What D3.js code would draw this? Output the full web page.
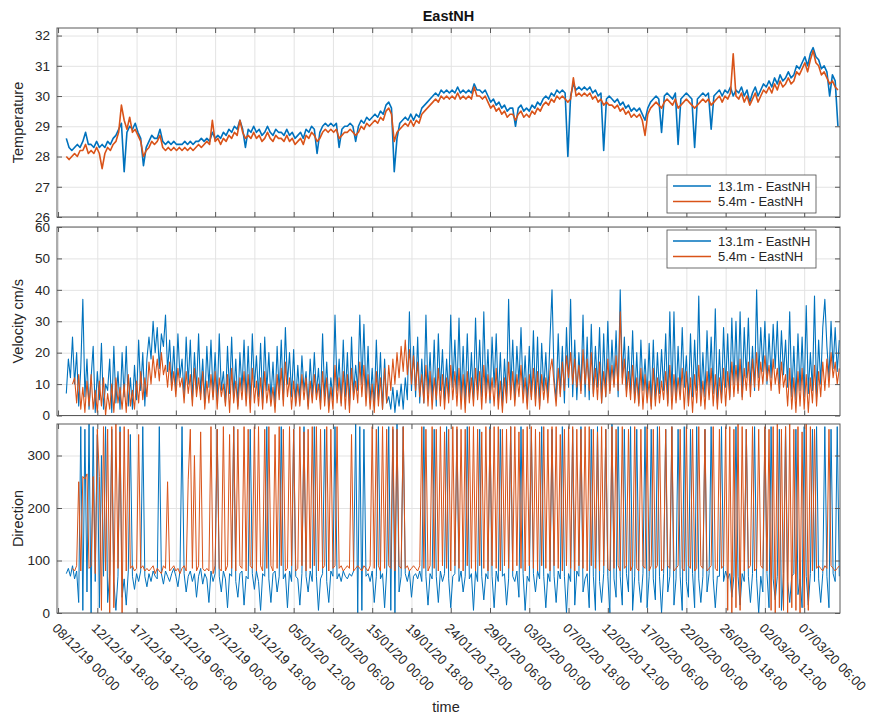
<!DOCTYPE html>
<html>
<head>
<meta charset="utf-8">
<script src="https://cdn.jsdelivr.net/npm/d3@7"></script>
<style>
  body { margin: 0; background: #fff; }
  svg { font-family: "Liberation Sans", Arial, Helvetica, sans-serif; }
</style>
</head>
<body>
<svg id="chart" width="871" height="716"></svg>
<script>
// ---- Mooring record: EastNH, two sensor depths ----
const chartTitle = "EastNH";
const seriesNames = ["13.1m - EastNH", "5.4m - EastNH"];
const startTime = "09/12/19 00:00";
const tempStepHours = 8;   // temperature samples
const flowStepHours = 6;   // velocity / direction samples

const tickLabels = [
  "08/12/19 00:00", "12/12/19 18:00", "17/12/19 12:00", "22/12/19 06:00",
  "27/12/19 00:00", "31/12/19 18:00", "05/01/20 12:00", "10/01/20 06:00",
  "15/01/20 00:00", "19/01/20 18:00", "24/01/20 12:00", "29/01/20 06:00",
  "03/02/20 00:00", "07/02/20 18:00", "12/02/20 12:00", "17/02/20 06:00",
  "22/02/20 00:00", "26/02/20 18:00", "02/03/20 12:00", "07/03/20 06:00"
];
const temperatureTicks = [26, 27, 28, 29, 30, 31, 32];
const velocityTicks = [0, 10, 20, 30, 40, 50, 60];
const directionTicks = [0, 100, 200, 300];

// Temperature (deg C), 13.1 m
const temp131 = [
  28.6,28.3,28.2, 28.3,28.4,28.3, 28.5,28.8,28.4, 28.4,28.3,28.5, 28.3,28.4,28.3,
  28.5,28.4,28.6, 28.7,28.9,29.1, 27.5,28.8,29.0, 28.9,29.1,28.8, 28.6,27.7,28.3,
  28.5,28.7,28.6, 28.6,28.9,28.5, 28.4,28.5,28.4, 28.5,28.4,28.4, 28.4,28.5,28.4,
  28.5,28.4,28.5, 28.5,28.6,28.5, 28.6,28.5,28.8, 28.6,28.7,28.6, 28.8,28.7,28.9,
  28.8,29.0,28.9, 29.2,28.9,28.3, 28.9,28.8,29.0, 28.8,28.9,28.7, 28.8,29.0,28.8,
  28.7,28.9,28.8, 28.8,28.7,28.9, 28.7,28.8,28.6, 28.7,28.8,28.6, 28.9,28.8,29.0,
  28.9,28.1,28.8, 29.0,29.1,29.0, 29.1,29.0,29.1, 28.3,28.9,29.0, 29.0,29.1,29.0,
  28.5,29.0,29.2, 29.1,29.3,29.2, 29.3,29.4,29.3, 29.5,29.4,29.7, 29.8,29.6,27.5,
  28.6,29.1,29.2, 29.3,29.2,29.4, 29.2,29.4,29.3, 29.6,29.7,29.8, 29.9,30.0,30.1,
  30.0,30.2,30.1, 30.2,30.1,30.2, 30.1,30.3,30.1, 30.2,30.1,30.2, 30.1,30.4,30.2,
  30.2,30.1,30.2, 30.0,29.8,29.9, 29.7,29.8,29.6, 29.7,29.5,29.6, 29.6,29.0,29.6,
  29.7,29.5,29.6, 29.5,29.7,29.6, 29.8,29.7,29.9, 30.0,29.9,30.1, 30.0,30.2,30.1,
  30.2,30.1,28.0, 30.0,30.4,30.2, 30.3,30.2,30.3, 30.2,30.3,30.1, 30.2,30.0,30.1,
  28.2,29.9,30.0, 29.9,29.8,29.9, 29.7,29.8,29.6, 29.7,29.5,29.6, 29.5,29.6,29.4,
  29.2,29.6,29.8, 29.9,30.0,29.9, 28.8,30.0,30.1, 30.0,29.9,30.1, 28.4,29.9,30.0,
  30.1,30.0,29.9, 28.3,29.9,30.0, 30.1,30.0,30.1, 28.9,30.0,30.1, 30.2,30.0,30.2,
  30.1,30.3,30.0, 30.2,30.1,30.3, 30.0,30.2,29.8, 30.1,30.3,30.0, 30.2,30.4,30.3,
  30.5,30.3,30.6, 30.4,30.7,30.5, 30.6,30.8,30.6, 30.7,31.0,30.9, 31.1,31.3,31.0,
  31.4,31.6,31.3, 31.2,30.9,31.0, 30.8,30.0,30.7, 30.5,29.0
];

// Temperature (deg C), 5.4 m
const temp54 = [
  28.0,27.9,28.0, 28.1,28.0,28.2, 28.2,28.4,28.1, 28.2,28.1,28.3, 28.1,27.6,28.1,
  28.3,28.2,28.4, 28.5,28.8,29.7, 29.2,28.9,29.3, 28.8,28.9,28.7, 28.5,28.0,28.2,
  28.3,28.5,28.4, 28.5,28.7,28.3, 28.2,28.3,28.2, 28.3,28.2,28.3, 28.2,28.3,28.2,
  28.3,28.2,28.3, 28.4,28.3,28.4, 28.5,28.4,29.2, 28.5,28.6,28.4, 28.6,28.5,28.7,
  28.6,28.8,28.7, 29.2,28.8,28.6, 28.7,28.6,28.8, 28.6,28.7,28.5, 28.6,28.8,28.6,
  28.5,28.7,28.6, 28.6,28.5,28.7, 28.5,28.6,28.4, 28.5,28.6,28.4, 28.7,28.6,28.8,
  28.7,28.5,28.6, 28.8,28.9,28.8, 28.9,28.8,28.9, 28.6,28.7,28.8, 28.8,28.9,28.8,
  28.7,28.8,29.0, 28.9,29.1,29.0, 29.1,29.2,29.1, 29.3,29.2,29.5, 29.6,29.4,28.5,
  28.8,28.9,29.0, 29.1,29.0,29.2, 29.0,29.2,29.1, 29.4,29.5,29.6, 29.7,29.8,29.9,
  29.8,30.0,29.9, 30.0,29.9,30.0, 29.9,30.1,29.9, 30.0,29.9,30.0, 29.9,30.3,30.0,
  30.0,29.9,30.0, 29.8,29.6,29.7, 29.5,29.6,29.4, 29.5,29.3,29.4, 29.4,29.2,29.4,
  29.5,29.3,29.4, 29.3,29.5,29.4, 29.6,29.5,29.7, 29.8,29.7,29.9, 29.8,30.0,29.9,
  30.0,29.9,29.8, 29.9,30.6,30.0, 30.1,30.0,30.1, 30.0,30.1,29.9, 30.0,29.8,29.9,
  29.7,29.8,29.7, 29.7,29.6,29.7, 29.5,29.6,29.4, 29.5,29.3,29.4, 29.3,29.4,29.2,
  28.7,29.4,29.6, 29.7,29.8,29.7, 29.6,29.8,29.9, 29.8,29.7,29.9, 29.6,29.7,29.8,
  29.9,29.8,29.7, 29.6,29.7,29.8, 29.9,29.8,29.9, 29.7,29.8,29.9, 30.0,29.8,30.0,
  29.9,30.1,31.4, 30.0,29.9,30.1, 29.8,30.0,29.7, 29.9,30.1,29.8, 30.0,30.2,30.1,
  30.3,30.1,30.4, 30.2,30.5,30.3, 30.4,30.6,30.4, 30.5,30.8,30.7, 30.9,31.1,30.8,
  31.2,31.5,31.1, 31.0,30.7,30.8, 30.6,30.4,30.5, 30.3,30.2
];

// Current speed (cm/s), 13.1 m
const vel131 = [
  7,18,12,25, 10,20,3,15, 37,6,18,2, 12,22,1,14, 5,23,2,10,
  8,18,1,22, 4,14,2,20, 6,22,3,12, 2,16,5,24, 8,20,3,18,
  25,18,30,20, 28,15,26,22, 32,14,24,10, 22,8,26,12, 18,6,25,10,
  24,5,20,8, 26,7,18,4, 22,9,24,6, 20,5,26,8, 14,4,22,7,
  25,6,18,3, 20,8,24,5, 22,4,26,9, 19,6,23,4, 25,8,20,5,
  17,3,22,7, 24,5,28,10, 20,6,21,4, 16,5,19,8, 14,3,18,6,
  20,7,15,4, 26,6,17,3, 12,5,32,8, 18,4,24,6, 20,3,25,7,
  16,8,32,10, 29,6,22,4, 15,3,24,5, 20,2,18,4, 6,2,9,1,
  8,3,10,2, 12,5,33,8, 22,6,25,4, 18,4,32,7, 20,5,24,3,
  26,8,21,5, 18,6,32,9, 24,7,31,5, 22,4,26,6, 20,5,31,8,
  24,6,33,7, 21,4,25,9, 26,5,20,3, 18,6,37,8, 24,5,22,10,
  28,7,19,4, 22,6,27,5, 25,3,23,8, 20,6,24,40, 12,5,26,7,
  22,4,28,9, 37,6,24,5, 20,8,32,6, 25,5,29,7, 22,9,28,4,
  26,6,30,8, 24,10,27,6, 40,12,25,8, 22,7,27,5, 20,4,24,8,
  18,6,23,3, 24,5,20,7, 21,8,26,4, 33,6,33,5, 22,7,28,9,
  19,4,26,6, 24,8,38,5, 20,6,27,8, 25,7,34,4, 21,5,28,9,
  26,6,31,10, 30,8,33,6, 28,12,31,9, 22,8,40,12, 28,14,30,10,
  26,12,29,15, 30,10,27,13, 24,9,33,6, 22,5,26,8, 25,6,35,7,
  20,8,38,6, 24,10,28,37, 22,12,30,15, 28,14,24
];

// Current speed (cm/s), 5.4 m
const vel54 = [
  null,null,null,10, 12,4,13,2, 9,1,11,3, 13,2,8,1, 11,3,12,0,
  7,2,10,1, 12,4,9,2, 10,1,13,3, 8,2,11,4, 14,5,12,6,
  17,10,19,12, 18,11,20,13, 16,9,17,8, 14,6,15,9, 12,4,14,7,
  13,3,15,6, 12,5,14,2, 11,4,13,5, 14,2,12,6, 10,3,13,1,
  15,4,11,2, 12,5,14,3, 13,1,15,4, 11,3,12,2, 14,4,10,3,
  9,1,13,5, 15,3,17,6, 12,2,11,3, 10,3,13,5, 12,2,11,4,
  13,5,10,2, 14,3,12,1, 9,2,16,4, 12,3,14,2, 13,1,15,5,
  11,4,17,6, 16,3,13,2, 10,1,14,3, 12,2,15,4, 16,8,18,10,
  20,12,22,14, 24,13,21,10, 19,8,17,6, 13,4,16,3, 14,2,12,5,
  15,3,13,2, 12,4,16,5, 14,3,15,2, 13,1,14,4, 12,3,15,5,
  14,2,16,4, 13,5,12,3, 15,2,11,1, 12,4,17,5, 14,3,13,6,
  16,4,12,2, 13,5,15,3, 14,2,13,5, 12,4,14,18, 10,3,15,6,
  17,8,19,12, 20,10,18,9, 16,7,21,10, 18,8,20,6, 15,5,17,4,
  14,6,18,7, 16,9,19,8, 33,10,18,6, 14,5,16,4, 12,3,15,2,
  13,4,11,2, 15,3,12,4, 11,5,14,3, 16,2,13,4, 12,5,15,2,
  14,3,12,1, 13,4,16,3, 11,2,14,5, 15,3,13,2, 12,4,15,3,
  14,5,17,6, 16,7,18,5, 15,8,17,6, 18,9,20,8, 17,10,19,11,
  16,8,18,10, 15,7,17,9, 13,3,15,2, 12,1,14,3, 15,2,13,1,
  12,4,16,3, 14,6,17,8, 18,9,20,12, 17,10,15
];

// Current direction (deg), 13.1 m
const dir131 = [
  75,85,70,90, 65,80,20,355, 5,350,40,360, 0,355,60,340, 10,300,70,355,
  20,75,350,60, 5,70,355,30, 65,15,80,340, 70,45,75,60, 80,355,70,50,
  75,60,80,70, 65,355,75,55, 80,70,60,75, 85,70,50,80, 355,75,40,70,
  80,60,75,30, 70,85,55,75, 65,20,80,60, 75,350,70,40, 80,65,10,75,
  70,355,60,30, 75,80,15,70, 65,350,75,45, 80,60,5,75, 70,355,65,20,
  75,80,40,70, 355,65,75,10, 80,60,350,70, 65,15,75,355, 70,40,80,60,
  355,70,5,65, 75,350,60,20, 80,70,355,65, 75,60,80,70, 65,75,70,80,
  360,0,355,5, 350,70,75,60, 80,20,70,355, 65,75,10,80, 355,5,350,0,
  360,40,70,355, 75,60,80,30, 70,75,65,80, 60,355,70,15, 75,65,350,70,
  20,80,60,75, 355,65,10,70, 75,350,60,80, 40,70,355,65, 75,5,80,60,
  350,70,25,75, 65,355,70,10, 80,60,350,70, 75,15,65,355, 70,60,80,30,
  355,75,5,70, 60,350,75,40, 80,65,355,70, 10,75,60,350, 70,20,80,65,
  355,70,0,75, 60,350,15,80, 70,355,40,65, 75,10,350,70, 5,355,60,20,
  75,350,70,0, 360,65,30,355, 70,15,350,75, 40,355,5,70, 350,60,20,75,
  355,10,70,350, 65,25,355,70, 0,75,350,40, 70,355,15,65, 350,70,5,355,
  60,30,350,75, 10,355,65,20, 70,350,40,75, 355,65,10,70, 70,355,60,80,
  65,75,30,70, 355,70,15,75, 60,350,70,20, 75,355,65,0, 70,40,350,75,
  10,355,65,25, 70,350,5,75, 355,60,20,70, 75,350,35,65, 10,355,70,15,
  75,350,60,355, 65,20,75,355, 70,10,350,75, 60,355,70
];

// Current direction (deg), 5.4 m
const dir54 = [
  null,null,null,85, 80,90,250,80, 260,255,265,85, 90,260,75,350, 260,5,355,80,
  350,0,355,10, 360,85,345,0, 355,80,350,85, 90,80,85,340, 85,90,80,85,
  80,85,90,75, 85,80,75,90, 85,250,80,85, 90,80,85,75, 85,90,80,255,
  350,85,300,80, 90,345,85,80, 85,80,355,75, 90,350,85,80, 355,80,90,340,
  85,355,80,350, 90,85,355,80, 350,90,85,355, 80,355,90,80, 350,85,355,90,
  80,340,85,355, 90,350,80,85, 355,90,350,80, 85,355,90,345, 80,350,85,355,
  90,355,80,350, 85,90,355,80, 350,85,90,355, 85,90,80,85, 90,85,340,80,
  85,90,85,80, 90,85,80,90, 355,85,350,90, 80,355,85,350, 90,85,355,80,
  350,90,85,355, 85,90,80,85, 90,85,80,90, 355,85,350,80, 90,355,85,350,
  80,355,90,345, 85,350,80,355, 90,355,85,350, 80,350,90,355, 85,355,80,350,
  90,345,85,355, 80,350,90,355, 85,355,80,350, 90,350,85,355, 80,355,90,345,
  85,350,80,355, 90,355,85,350, 80,345,90,355, 85,350,80,355, 90,355,85,340,
  80,350,90,355, 85,355,80,350, 90,350,85,355, 80,355,90,350, 85,345,80,355,
  90,350,85,80, 355,85,350,90, 80,355,85,90, 350,80,90,355, 85,80,350,90,
  85,355,80,90, 350,85,90,355, 80,85,350,90, 85,355,80,85, 90,350,85,80,
  355,90,85,350, 80,85,355,90, 85,350,80,85, 90,355,85,80, 350,85,90,355,
  5,355,0,350, 10,360,5,355, 80,350,85,90, 355,80,85,350, 90,85,355,80,
  350,5,355,0, 360,10,350,5, 355,0,360,10, 350,5,355,0, 345,10,360,5,
  355,80,350,85, 90,85,80,90, 85,350,90,85, 80,85,90
];

// ---- drawing ----
const colors = ["#0072BD", "#D95319"];
const textColor = "#262626";
const boxColor = "#5a5a5a";
const gridColor = "#e3e3e3";

const svg = d3.select("#chart");
const left = 57, right = 840;
const parseTime = d3.utcParse("%d/%m/%y %H:%M");
const t0 = parseTime(startTime);
const tickDates = tickLabels.map(parseTime);

const x = d3.scaleUtc()
  .domain([parseTime("07/12/19 21:00"), parseTime("11/03/20 14:00")])
  .range([left, right]);

function withTimes(values, stepHours) {
  return values.map((v, i) => ({ t: new Date(t0.getTime() + i * stepHours * 3600e3), v }));
}

const panels = [
  { id: "temp", label: "Temperature", top: 28, bottom: 217, domain: [26, 32.25],
    ticks: temperatureTicks, series: [temp131, temp54], step: tempStepHours,
    width: 1.6, legendTop: 175 },
  { id: "vel", label: "Velocity cm/s", top: 227, bottom: 415.5, domain: [0, 60],
    ticks: velocityTicks, series: [vel131, vel54], step: flowStepHours,
    width: 1.1, legendTop: 230 },
  { id: "dir", label: "Direction", top: 424, bottom: 613, domain: [0, 360],
    ticks: directionTicks, series: [dir131, dir54], step: flowStepHours,
    width: 1.0, timeLabels: true }
];

svg.append("text")
  .attr("x", (left + right) / 2).attr("y", 21)
  .attr("text-anchor", "middle")
  .attr("font-size", 14.5).attr("font-weight", "bold")
  .attr("fill", "#111")
  .text(chartTitle);

panels.forEach(p => {
  const y = d3.scaleLinear().domain(p.domain).range([p.bottom, p.top]);
  const h = p.bottom - p.top;
  const g = svg.append("g").attr("class", "panel-" + p.id);

  g.append("clipPath").attr("id", "clip-" + p.id)
    .append("rect").attr("x", left).attr("y", p.top)
    .attr("width", right - left).attr("height", h);

  // grid
  g.append("g").attr("transform", `translate(0,${p.bottom})`)
    .call(d3.axisBottom(x).tickValues(tickDates).tickSize(-h).tickFormat(""))
    .call(a => a.select(".domain").remove())
    .call(a => a.selectAll("line").attr("stroke", gridColor).attr("stroke-width", 1));
  g.append("g").attr("transform", `translate(${left},0)`)
    .call(d3.axisLeft(y).tickValues(p.ticks).tickSize(-(right - left)).tickFormat(""))
    .call(a => a.select(".domain").remove())
    .call(a => a.selectAll("line").attr("stroke", gridColor).attr("stroke-width", 1));

  // series: 13.1 m first, 5.4 m drawn over it
  const line = d3.line()
    .defined(d => d.v != null)
    .x(d => x(d.t))
    .y(d => y(d.v));
  const plot = g.append("g").attr("clip-path", `url(#clip-${p.id})`);
  p.series.forEach((vals, k) => {
    plot.append("path")
      .datum(withTimes(vals, p.step))
      .attr("fill", "none")
      .attr("stroke", colors[k])
      .attr("stroke-width", p.width)
      .attr("stroke-linejoin", "round")
      .attr("d", line);
  });

  // box
  g.append("rect")
    .attr("x", left).attr("y", p.top)
    .attr("width", right - left).attr("height", h)
    .attr("fill", "none").attr("stroke", boxColor).attr("stroke-width", 1);

  // inward tick marks on all four sides
  const tickLen = 5;
  const styleTicks = a => {
    a.select(".domain").remove();
    a.selectAll("line").attr("stroke", boxColor);
  };
  g.append("g").attr("transform", `translate(0,${p.top})`)
    .call(d3.axisTop(x).tickValues(tickDates).tickSize(-tickLen).tickFormat(""))
    .call(styleTicks);
  const bottomAxis = g.append("g").attr("transform", `translate(0,${p.bottom})`)
    .call(d3.axisBottom(x).tickValues(tickDates).tickSize(-tickLen)
      .tickFormat(p.timeLabels ? (d, i) => tickLabels[i] : ""))
    .call(styleTicks);
  g.append("g").attr("transform", `translate(${right},0)`)
    .call(d3.axisRight(y).tickValues(p.ticks).tickSize(-tickLen).tickFormat(""))
    .call(styleTicks);
  const leftAxis = g.append("g").attr("transform", `translate(${left},0)`)
    .call(d3.axisLeft(y).tickValues(p.ticks).tickSize(-tickLen)
      .tickPadding(7).tickFormat(d3.format("d")))
    .call(styleTicks);
  leftAxis.selectAll("text")
    .attr("font-size", 13.5).attr("fill", textColor)
    .attr("font-family", "Liberation Sans, Arial, sans-serif");

  if (p.timeLabels) {
    bottomAxis.selectAll("text")
      .attr("x", 0).attr("y", 0).attr("dy", 0)
      .attr("text-anchor", "start")
      .attr("transform", "translate(-7,16) rotate(45)")
      .attr("font-size", 13.3).attr("fill", textColor)
      .attr("font-family", "Liberation Sans, Arial, sans-serif");
  }

  // y-axis title
  g.append("text")
    .attr("transform", `translate(23,${(p.top + p.bottom) / 2}) rotate(-90)`)
    .attr("text-anchor", "middle")
    .attr("font-size", 14.5).attr("fill", textColor)
    .text(p.label);

  // legend
  if (p.legendTop != null) {
    const lg = g.append("g").attr("transform", `translate(667,${p.legendTop})`);
    lg.append("rect").attr("width", 149).attr("height", 38)
      .attr("fill", "#fff").attr("stroke", "#4a4a4a").attr("stroke-width", 0.8);
    seriesNames.forEach((name, k) => {
      const ly = 11 + k * 15.5;
      lg.append("line").attr("x1", 6).attr("x2", 44).attr("y1", ly).attr("y2", ly)
        .attr("stroke", colors[k]).attr("stroke-width", 1.5);
      lg.append("text").attr("x", 51).attr("y", ly).attr("dy", "0.35em")
        .attr("font-size", 13).attr("fill", textColor).text(name);
    });
  }
});

svg.append("text")
  .attr("x", 446).attr("y", 712)
  .attr("text-anchor", "middle")
  .attr("font-size", 14.5).attr("fill", textColor)
  .text("time");
</script>
</body>
</html>
